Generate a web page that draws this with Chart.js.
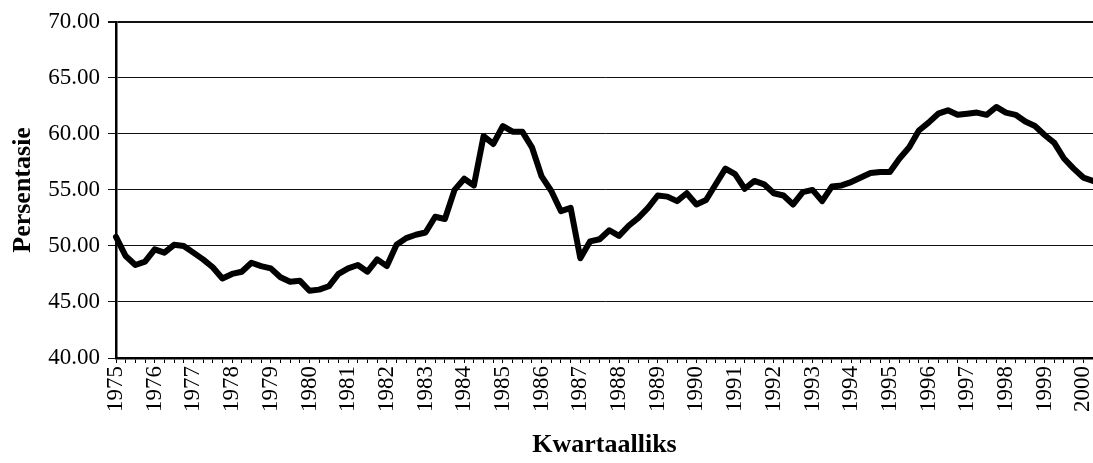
<!DOCTYPE html>
<html>
<head>
<meta charset="utf-8">
<script src="https://cdn.jsdelivr.net/npm/chart.js@4"></script>
<style>
  body { margin: 0; background: #fff; }
  #grafiek { display: block; }
</style>
</head>
<body>
<canvas id="grafiek" width="1093" height="463"></canvas>
<script>
// jaartalle op die x-as (elke eerste kwartaal)
const jare = ['1975','1976','1977','1978','1979','1980','1981','1982','1983','1984','1985','1986','1987',
              '1988','1989','1990','1991','1992','1993','1994','1995','1996','1997','1998','1999','2000'];

// persentasie per kwartaal, 1975K1 tot 2000K2
const persentasie = [
  50.8, 49.1, 48.3, 48.6, 49.7, 49.4, 50.1, 50.0, 49.4, 48.8, 48.1, 47.1, 47.5, 47.7, 48.5, 48.2,
  48.0, 47.2, 46.8, 46.9, 46.0, 46.1, 46.4, 47.5, 48.0, 48.3, 47.7, 48.8, 48.2, 50.1, 50.7, 51.0,
  51.2, 52.6, 52.4, 55.0, 56.0, 55.4, 59.8, 59.1, 60.7, 60.2, 60.2, 58.8, 56.2, 54.9, 53.1, 53.4,
  48.9, 50.4, 50.6, 51.4, 50.9, 51.8, 52.5, 53.4, 54.5, 54.4, 54.0, 54.7, 53.7, 54.1, 55.5, 56.9,
  56.4, 55.1, 55.8, 55.5, 54.7, 54.5, 53.7, 54.8, 55.0, 54.0, 55.3, 55.4, 55.7, 56.1, 56.5, 56.6,
  56.6, 57.8, 58.8, 60.3, 61.0, 61.8, 62.1, 61.7, 61.8, 61.9, 61.7, 62.4, 61.9, 61.7, 61.1, 60.7,
  59.9, 59.2, 57.8, 56.9, 56.1, 55.8
];

const yTicks = [40, 45, 50, 55, 60, 65, 70];

// kategorieë: een per kwartaal
let kwartale = [];
for (let i = 0; i < persentasie.length; i++) {
  let jaar = jare[Math.floor(i / 4)];
  kwartale.push(jaar + 'K' + (i % 4 + 1));
}

const fontNaam = "'Liberation Serif', 'Times New Roman', serif";

new Chart(document.getElementById('grafiek'), {
  type: 'line',
  data: {
    labels: kwartale,
    datasets: [{
      data: persentasie,
      borderColor: '#000',
      borderWidth: 6,
      pointRadius: 0,
      tension: 0,
      borderJoinStyle: 'round',
      borderCapStyle: 'round',
      fill: false
    }]
  },
  options: {
    responsive: false,
    animation: false,
    clip: false,
    layout: { padding: { left: 8, right: 0, top: 20, bottom: 2 } },
    plugins: { legend: { display: false }, tooltip: { enabled: false } },
    scales: {
      x: {
        type: 'category',
        offset: false,
        afterFit: function(scale) {
          scale.height = 103;
          scale.paddingLeft = 0;
          scale.paddingRight = 0;
        },
        grid: { drawOnChartArea: false, drawTicks: true, tickLength: 5, color: '#000', lineWidth: 1 },
        border: { display: true, color: '#000', width: 2.5 },
        ticks: {
          autoSkip: false,
          maxRotation: 90,
          minRotation: 90,
          padding: 3,
          color: '#000',
          font: { family: fontNaam, size: 23 },
          callback: function(value, index) {
            return index % 4 === 0 ? jare[index / 4] : '';
          }
        },
        title: {
          display: true,
          text: 'Kwartaalliks',
          color: '#000',
          font: { family: fontNaam, size: 26, weight: 'bold' },
          padding: 0
        }
      },
      y: {
        min: 40,
        max: 70,
        afterFit: function(scale) { scale.width = 108; },
        afterBuildTicks: function(scale) { scale.ticks = yTicks.map(v => ({ value: v })); },
        grid: {
          color: '#111',
          lineWidth: function(c) { return c.tick && c.tick.value === 70 ? 2 : 1; },
          drawTicks: true,
          tickLength: 8
        },
        border: { display: true, color: '#000', width: 2.5 },
        ticks: {
          padding: 8,
          color: '#000',
          font: { family: fontNaam, size: 23 },
          callback: function(value) { return value.toFixed(2); }
        },
        title: {
          display: true,
          text: 'Persentasie',
          color: '#000',
          font: { family: fontNaam, size: 26, weight: 'bold' },
          padding: 0
        }
      }
    }
  }
});
</script>
</body>
</html>
